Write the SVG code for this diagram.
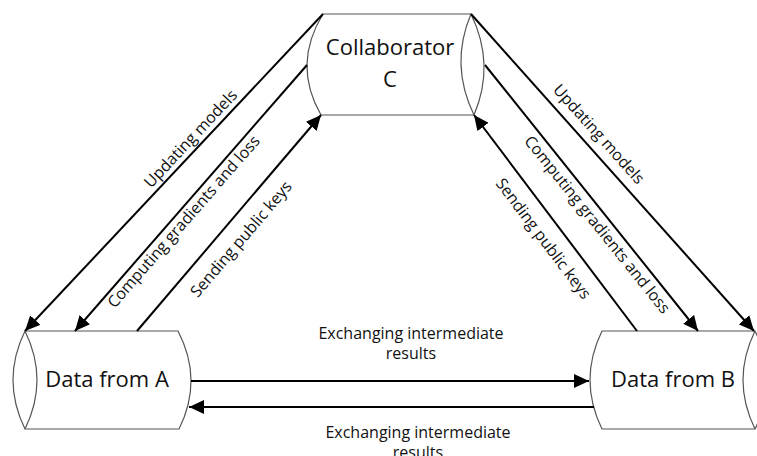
<svg xmlns="http://www.w3.org/2000/svg" width="757" height="456" viewBox="0 0 757 456">
<style>
.shape{fill:#fff;stroke:#555;stroke-width:1.2}
.conn{fill:none;stroke:#000;stroke-width:2}
.node{font-family:"Open Sans","Liberation Sans",sans-serif;font-size:22px;fill:#111;text-anchor:middle}
.lbl{font-family:"Open Sans","Liberation Sans",sans-serif;font-size:16px;fill:#111;text-anchor:middle}
</style>
<defs>
<marker id="ah" markerUnits="userSpaceOnUse" markerWidth="16" markerHeight="14" refX="15" refY="7" orient="auto">
<path d="M0,0 L15,7 L0,14 z" fill="#000"/>
</marker>
</defs>
<g id="nodeC">
<path class="shape" d="M323,14 L471,14 Q495.5,64.5 474,115 L321,115 Q292,64.5 323,14 Z"/>
<path class="shape" d="M471,14 Q449.5,64.5 474,115"/>
<text class="node" x="390" y="55">Collaborator</text>
<text class="node" x="390" y="87">C</text>
</g>
<g id="nodeA">
<path class="shape" d="M25,331 L178,331 Q203.5,380 179,429 L25,429 Q1,380 25,331 Z"/>
<path class="shape" d="M25,331 Q49,380 25,429"/>
<text class="node" x="107" y="387">Data from A</text>
</g>
<g id="nodeB">
<path class="shape" d="M602,331 L755,331 Q779,380 755,429 L602,429 Q578,380 602,331 Z"/>
<path class="shape" d="M755,331 Q731,380 755,429"/>
<text class="node" x="673" y="387">Data from B</text>
</g>
<g id="connectors">
<path class="conn" d="M323,14 L25,331" marker-end="url(#ah)"/>
<path class="conn" d="M307,65 L75,331" marker-end="url(#ah)"/>
<path class="conn" d="M137,331 L321,115" marker-end="url(#ah)"/>
<path class="conn" d="M471,14 L754,331" marker-end="url(#ah)"/>
<path class="conn" d="M485,65 L698,331" marker-end="url(#ah)"/>
<path class="conn" d="M637,331 L474,115" marker-end="url(#ah)"/>
<path class="conn" d="M191,381 L589,381" marker-end="url(#ah)"/>
<path class="conn" d="M594,407 L189,407" marker-end="url(#ah)"/>
</g>
<g id="labels">
<text class="lbl" transform="translate(190.5,138.5) rotate(-46.8)" dy="0.35em">Updating models</text>
<text class="lbl" transform="translate(183.5,221.5) rotate(-48.9)" dy="0.35em">Computing gradients and loss</text>
<text class="lbl" transform="translate(241,239) rotate(-49.6)" dy="0.35em">Sending public keys</text>
<text class="lbl" transform="translate(599,134) rotate(48.1)" dy="0.35em">Updating models</text>
<text class="lbl" transform="translate(597.5,224.5) rotate(51.3)" dy="0.35em">Computing gradients and loss</text>
<text class="lbl" transform="translate(543.5,238.5) rotate(53)" dy="0.35em">Sending public keys</text>
<text class="lbl" x="411" y="339">Exchanging intermediate</text>
<text class="lbl" x="411" y="359">results</text>
<text class="lbl" x="418" y="438">Exchanging intermediate</text>
<text class="lbl" x="418" y="458">results</text>
</g>
</svg>
